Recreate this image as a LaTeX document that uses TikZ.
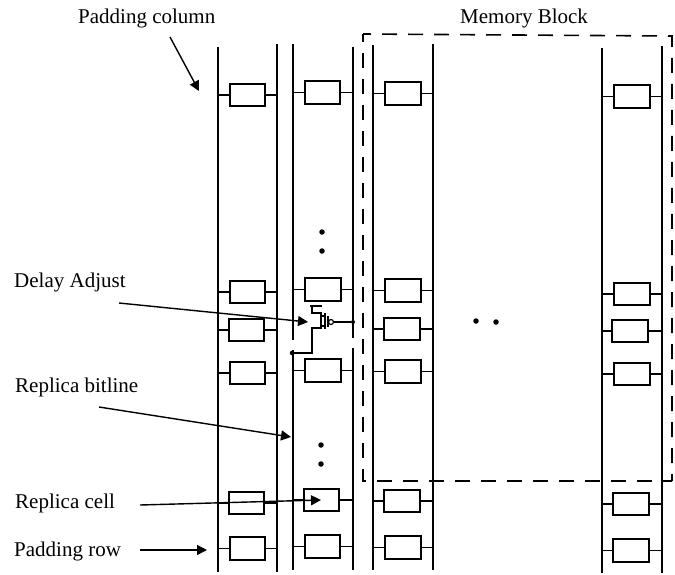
\documentclass[tikz,border=0pt]{standalone}
\usepackage{fontspec}
\setmainfont{Liberation Serif}
\usetikzlibrary{arrows.meta}
\tikzset{
  bitline/.style={line width=1.9pt,black},
  stub/.style={line width=1.6pt,black},
  cellbox/.style={draw=black,line width=1.8pt,fill=white,minimum width=35.5pt,minimum height=22.5pt,inner sep=0pt},
  lbl/.style={font=\fontsize{21}{23}\selectfont,anchor=base west,inner sep=0pt},
  pointer/.style={line width=1.4pt,-{Triangle[length=10pt,width=10pt]}},
  memblock/.style={line width=1.6pt,dash pattern=on 15pt off 11pt,dash phase=7pt},
  wire/.style={line width=1.5pt},
  dotmark/.style={circle,fill=black,inner sep=0pt,minimum size=5.5pt}
}
% \cellat{name}{center x}{center y}{left bitline}{right bitline}
\newcommand{\cellat}[5]{%
  \node[cellbox] (#1) at (#2,#3) {};
  \coordinate (#1L) at (#4,#3);
  \coordinate (#1R) at (#5,#3);
  \draw[stub] (#1L) -- (#1.west);
  \draw[stub] (#1.east) -- (#1R);
}
\begin{document}
\begin{tikzpicture}[x=1pt,y=-1pt]
\useasboundingbox[fill=white] (0,0) rectangle (675,574);
% bitlines
\coordinate (a1) at (218,47); \coordinate (a2) at (218,572);
\coordinate (b1) at (277,44); \coordinate (b2) at (277,572);
\coordinate (c1) at (293,44); \coordinate (c2) at (293,340);
\coordinate (c3) at (293,350); \coordinate (c4) at (293,570);
\coordinate (d1) at (353,47); \coordinate (d2) at (353,338);
\coordinate (d3) at (353,348); \coordinate (d4) at (353,570);
\coordinate (e1) at (373,45); \coordinate (e2) at (373,570);
\coordinate (f1) at (433,44); \coordinate (f2) at (433,570);
\coordinate (g1) at (602,48); \coordinate (g2) at (602,573);
\coordinate (h1) at (662,46); \coordinate (h2) at (662,573);
\draw[bitline] (a1)--(a2); \draw[bitline] (b1)--(b2);
\draw[bitline] (c1)--(c2); \draw[bitline] (c3)--(c4);
\draw[bitline] (d1)--(d2); \draw[bitline] (d3)--(d4);
\draw[bitline] (e1)--(e2); \draw[bitline] (f1)--(f2);
\draw[bitline] (g1)--(g2); \draw[bitline] (h1)--(h2);
% column 1
\cellat{a1c}{247.5}{95}{218}{277}
\cellat{a2c}{247.5}{292}{218}{277}
\cellat{a3c}{246.5}{330}{218}{277}
\cellat{a4c}{247.5}{373}{218}{277}
\cellat{a5c}{246.5}{503}{218}{277}
\cellat{a6c}{247.5}{548.5}{218}{277}
% column 2
\cellat{b1c}{322.5}{92.5}{293}{353}
\cellat{b2c}{323}{289.5}{293}{353}
\cellat{b4c}{323}{370.5}{293}{353}
\cellat{b5c}{321.5}{500}{293}{353}
\cellat{b6c}{322.5}{546.5}{293}{353}
% column 3
\cellat{c1c}{403}{93.5}{373}{433}
\cellat{c2c}{403}{290.5}{373}{433}
\cellat{c3c}{402}{329}{373}{433}
\cellat{c4c}{403}{371.5}{373}{433}
\cellat{c5c}{402}{501}{373}{433}
\cellat{c6c}{403}{547.5}{373}{433}
% column 4
\cellat{d1c}{632}{96.5}{602}{662}
\cellat{d2c}{632}{294}{602}{662}
\cellat{d3c}{630}{331}{602}{662}
\cellat{d4c}{632}{374}{602}{662}
\cellat{d5c}{631}{504}{602}{662}
\cellat{d6c}{631}{550.5}{602}{662}
% memory block
\coordinate (m1) at (363,34); \coordinate (m2) at (672,36);
\coordinate (m3) at (672,481); \coordinate (m4) at (363,481);
\draw[memblock] (m1)--(m2)--(m3);
\draw[memblock] (m1)--(m4)--(m3);
% transistor
\coordinate (tbl) at (310,306); \coordinate (tbr) at (322,306);
\coordinate (t0) at (312,306); \coordinate (t1) at (312,313); \coordinate (t2) at (321,313);
\coordinate (t3) at (321,328); \coordinate (t4) at (312,328); \coordinate (t5) at (312,353);
\node[dotmark,minimum size=4.5pt] (tdot) at (292,353) {};
\node[dotmark,minimum size=4pt] (gdot) at (353,322) {};
\node[circle,draw,line width=1.2pt,inner sep=0pt,minimum size=5pt] (bub) at (331,322) {};
\coordinate (ch1) at (325,313); \coordinate (ch2) at (325,329);
\coordinate (gt1) at (328,316); \coordinate (gt2) at (328,327);
\coordinate (s1) at (321,316); \coordinate (s1e) at (325,316);
\coordinate (s2) at (321,326); \coordinate (s2e) at (325,326);
\draw[wire] (tbl)--(tbr);
\draw[wire] (t0)--(t1)--(t2)--(t3)--(t4)--(t5)--(tdot);
\draw[line width=1.8pt] (ch1)--(ch2);
\draw[wire] (gt1)--(gt2);
\draw[wire] (s1)--(s1e); \draw[wire] (s2)--(s2e);
\draw[wire] (bub)--(gdot);
% dots
\node[dotmark] (p1) at (322,232) {};
\node[dotmark] (p2) at (322,251) {};
\node[dotmark] (p3) at (321,445) {};
\node[dotmark] (p4) at (321,464) {};
\node[dotmark] (p5) at (476,321) {};
\node[dotmark] (p6) at (496,322) {};
% labels
\node[lbl] (l1) at (78,23) {Padding column};
\node[lbl] (l2) at (460,23) {Memory Block};
\node[lbl] (l3) at (14,287) {Delay Adjust};
\node[lbl] (l4) at (15,392) {Replica bitline};
\node[lbl] (l5) at (15,508) {Replica cell};
\node[lbl] (l6) at (14,556) {Padding row};
% arrows
\coordinate (s1a) at (170,37); \coordinate (e1a) at (199,91);
\coordinate (s3a) at (119,303); \coordinate (e3a) at (308,322);
\coordinate (s4a) at (99,407); \coordinate (e4a) at (291,437);
\coordinate (s5a) at (140,505); \coordinate (e5a) at (321,500);
\coordinate (s6a) at (140,550); \coordinate (e6a) at (207,550);
\draw[pointer] (s1a)--(e1a);
\draw[pointer] (s3a)--(e3a);
\draw[pointer] (s4a)--(e4a);
\draw[pointer] (s5a)--(e5a);
\draw[pointer] (s6a)--(e6a);
\end{tikzpicture}
\end{document}
